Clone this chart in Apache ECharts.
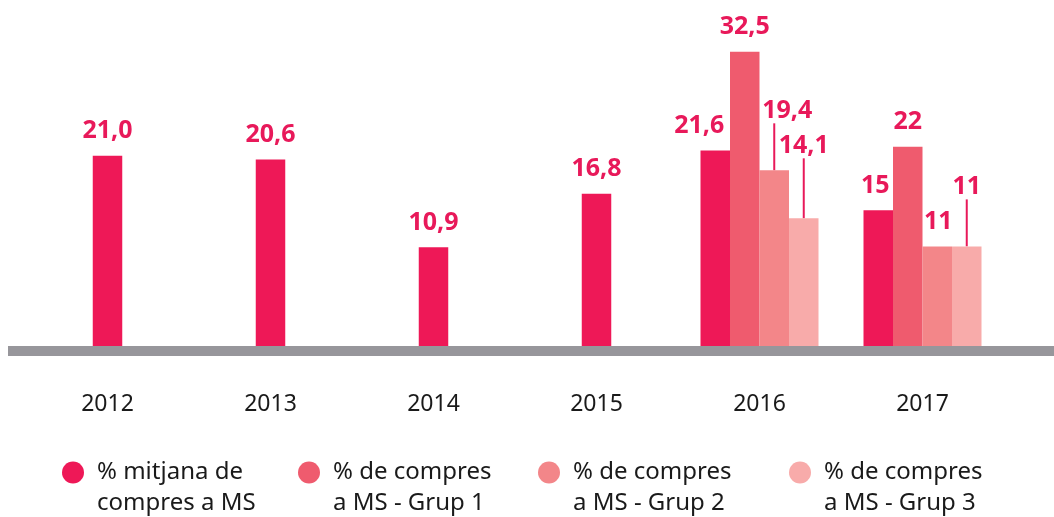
<!DOCTYPE html>
<html>
<head>
<meta charset="utf-8">
<script src="https://cdn.jsdelivr.net/npm/echarts@6/dist/echarts.min.js"></script>
<style>
  html, body { margin: 0; padding: 0; background: #fff; }
  #chart { width: 1054px; height: 517px; }
</style>
</head>
<body>
<div id="chart"></div>
<script>
// data
var years = ['2012', '2013', '2014', '2015', '2016', '2017']
var mitjana = [21.0, 20.6, 10.9, 16.8, 21.6, 15]
var grup1 = [null, null, null, null, 32.5, 22]
var grup2 = [null, null, null, null, 19.4, 11]
var grup3 = [null, null, null, null, 14.1, 11]
var decimals = [1, 1, 1, 1, 1, 0] // 2017 is shown without decimals

var names = [
  '% mitjana de compres a MS',
  '% de compres a MS - Grup 1',
  '% de compres a MS - Grup 2',
  '% de compres a MS - Grup 3'
]
var legendText = [
  '% mitjana de\ncompres a MS',
  '% de compres\na MS - Grup 1',
  '% de compres\na MS - Grup 2',
  '% de compres\na MS - Grup 3'
]
var colors = ['#EE1857', '#EF5B6E', '#F38689', '#F8ABAA']
var labelColor = '#E8195A'
var font = 'Noto Sans'

// label nudges (series index -> dataIndex -> [dx, dy, leader line, text shift])
var nudges = {
  0: { 4: [-16, 0], 5: [-3, 0] },
  2: { 4: [0, -35, true, 13], 5: [1, 0] },
  3: { 4: [0, -48, true], 5: [0, -35, true] }
}

function fmt(p) {
  return Number(p.value).toFixed(decimals[p.dataIndex]).replace('.', ',')
}

function items(arr, si) {
  return arr.map(function(v, i) {
    if (v === null) return '-'
    var n = nudges[si] && nudges[si][i]
    if (n && n[2]) {
      var it = { value: v, labelLine: { show: true } }
      // keep the label box centred on the bar, move only the glyphs
      if (n[3]) it.label = { padding: [0, 0, 0, n[3] * 2] }
      return it
    }
    return v
  })
}

var label = {
  show: true,
  position: 'top',
  distance: 12,
  color: labelColor,
  fontFamily: font,
  fontWeight: 'bold',
  fontSize: 25,
  lineHeight: 25,
  formatter: fmt
}

function grouped(arr, si) {
  return {
    name: names[si],
    type: 'bar',
    xAxisIndex: 0,
    barWidth: 29.5,
    barGap: 0,
    itemStyle: { color: colors[si] },
    label: label,
    labelLine: { show: false, lineStyle: { color: labelColor, width: 2 } },
    labelLayout: function(p) {
      var n = nudges[si] && nudges[si][p.dataIndex]
      return n ? { dx: n[0], dy: n[1] } : {}
    },
    data: items(arr, si)
  }
}

var early = mitjana.map(function(v, i) { return i < 4 ? v : '-' })
var late = mitjana.map(function(v, i) { return i >= 4 ? v : null })

var chart = echarts.init(document.getElementById('chart'))

// empty first line so the dot sits level with the first text line
var legends = names.map(function(nm, i) {
  return {
    data: [nm],
    left: [62, 298, 538, 789][i],
    top: 426,
    padding: 0,
    icon: 'circle',
    itemWidth: 22,
    itemHeight: 22,
    formatter: function() { return ' \n' + legendText[i] },
    textStyle: {
      fontFamily: font,
      fontSize: 24,
      lineHeight: 31,
      color: '#1a1a1a',
      padding: [0, 0, 0, 8]
    }
  }
})

chart.setOption({
  animation: false,
  color: colors,
  grid: { left: 26, right: 50, top: 20, bottom: 171 },
  legend: legends,
  xAxis: [{
    type: 'category',
    data: years,
    axisLine: { show: false },
    axisTick: { show: false },
    axisLabel: { margin: 47, fontFamily: font, fontSize: 23, color: '#1a1a1a' }
  }, {
    type: 'category',
    data: years,
    show: false
  }],
  yAxis: {
    type: 'value',
    min: 0,
    max: 36,
    show: false,
    splitLine: { show: false }
  },
  graphic: [{
    type: 'rect',
    left: 8,
    top: 346,
    shape: { width: 1046, height: 10 },
    style: { fill: '#97969B' }
  }],
  series: [
    {
      name: names[0],
      type: 'bar',
      xAxisIndex: 1,
      barWidth: 29.5,
      itemStyle: { color: colors[0] },
      label: label,
      data: early
    },
    grouped(late, 0),
    grouped(grup1, 1),
    grouped(grup2, 2),
    grouped(grup3, 3)
  ]
})
</script>
</body>
</html>
